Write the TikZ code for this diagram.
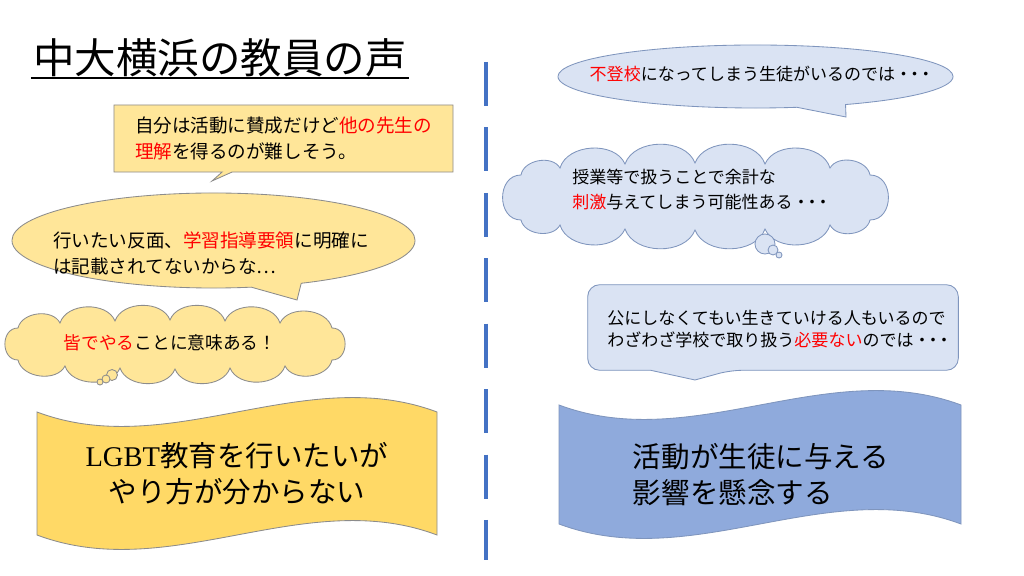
\documentclass[tikz,border=0pt]{standalone}
\usepackage{fontspec}
\setmainfont{Noto Sans CJK JP}
\newfontfamily\lgbtfont{Liberation Serif}
\usetikzlibrary{shapes,shapes.callouts,positioning,calc}

\definecolor{lightyel}{HTML}{FFE699}
\definecolor{waveyel}{HTML}{FFD966}
\definecolor{lightblu}{HTML}{DAE3F3}
\definecolor{waveblu}{HTML}{8FAADC}
\definecolor{boxgray}{HTML}{8C8C8C}
\definecolor{boxblue}{HTML}{7F95BD}
\definecolor{divblue}{HTML}{4472C4}
\definecolor{hotred}{HTML}{FF0000}

\newcommand{\redw}[1]{\textcolor{hotred}{#1}}
\newcommand{\tdots}{・\kern-0.35em・\kern-0.35em・}

\tikzset{
    yelbox/.style={draw=boxgray, fill=lightyel, line width=0.6pt},
    bluebox/.style={draw=boxblue, fill=lightblu, line width=0.6pt},
    yelwave/.style={draw=boxgray, fill=waveyel, line width=0.6pt},
    bluwave/.style={draw=boxblue, fill=waveblu, line width=0.6pt},
    cloudpuff/.style={bend left=70},
    cloudend/.style={bend left=90, looseness=1.4},
    bubble/.style={circle, inner sep=0pt},
    saytext/.style={align=left, inner sep=0pt, font=\fontsize{13.2}{18.5}\selectfont},
    smalltext/.style={align=left, inner sep=0pt, font=\fontsize{12.1}{17.5}\selectfont},
    wavetext/.style={align=center, inner sep=0pt, font=\fontsize{20.3}{25.5}\selectfont},
    divider/.style={draw=divblue, line width=2.2pt, dash pattern=on 1.1cm off 0.535cm}
}

\begin{document}
\begin{tikzpicture}[x=0.025cm, y=-0.025cm]
    % Page frame
    \useasboundingbox[fill=white] (0,0) rectangle (1024,576);

    % Title with underline
    \node[anchor=west, inner sep=0pt, font=\fontsize{29.5}{34}\selectfont] (title) at (33,58) {中大横浜の教員の声};
    \draw[line width=1.4pt] ([xshift=-0.05cm,yshift=-0.5pt]title.south west) -- ([xshift=0.05cm,yshift=-0.5pt]title.south east);

    % Dashed divider
    \coordinate (divtop) at (486,62);
    \coordinate (divbot) at (486,560);
    \draw[divider] (divtop) -- (divbot);

    % Left: rectangle callout
    \node[rectangle callout, yelbox, saytext, minimum width=8.475cm, minimum height=1.675cm,
          callout absolute pointer={(212,181)}] (othersay) at (283.5,138.5)
          {自分は活動に賛成だけど\redw{他の先生の}\\\redw{理解}を得るのが難しそう。};

    % Left: ellipse callout
    \node[ellipse callout, yelbox, minimum width=10.075cm, minimum height=2.375cm,
          callout absolute pointer={(297,300)}] (guidesay) at (213.5,240.5) {};
    \node[saytext] (guidetext) at (211,253) {行いたい反面、\redw{学習指導要領}に明確に\\は記載されてないからな…};

    % Left: thought cloud and its bubbles
    \draw[yelbox] (18,360) to[cloudend] (18,328)
        \foreach \px/\py in {60/323,115/321,170/320,225/321,280/323,332/328} { to[cloudpuff] (\px,\py) }
        to[cloudend] (332,360)
        \foreach \px/\py in {285/366,230/368,175/369,120/368,65/366,18/360} { to[cloudpuff] (\px,\py) } -- cycle;
    \node[bubble, yelbox, minimum size=0.275cm] (allb1) at (112,375) {};
    \node[bubble, yelbox, minimum size=0.2cm] (allb2) at (106,379) {};
    \node[bubble, yelbox, minimum size=0.15cm] (allb3) at (100,382) {};
    \node[smalltext, font=\fontsize{12.6}{17.5}\selectfont] (alltext) at (170,343) {\redw{皆でやる}ことに意味ある！};

    % Left: wave banner
    \draw[yelwave] (37,412) .. controls (170,462) and (304,362) .. (437,412) -- (437,535)
        .. controls (304,485) and (170,585) .. (37,535) -- cycle;
    \node[wavetext] (leftwave) at (237,474) {{\lgbtfont LGBT}教育を行いたいが\\やり方が分からない};

    % Right: ellipse callout
    \node[ellipse callout, bluebox, minimum width=9.875cm, minimum height=1.575cm,
          callout absolute pointer={(846,117)}] (absentsay) at (755.5,76.5) {};
    \node[smalltext] (absenttext) at (762,74) {\redw{不登校}になってしまう生徒がいるのでは\tdots};

    % Right: thought cloud and its bubbles
    \draw[bluebox] (521,220) to[cloudend] (521,175)
        \foreach \px/\py in {560/168,625/164,695/163,765/164,830/168,870/175} { to[cloudpuff] (\px,\py) }
        to[cloudend] (870,220)
        \foreach \px/\py in {830/225,765/229,695/230,625/229,560/225,521/220} { to[cloudpuff] (\px,\py) } -- cycle;
    \node[bubble, bluebox, minimum size=0.5cm] (stimb1) at (765,244) {};
    \node[bubble, bluebox, minimum size=0.25cm] (stimb2) at (773,250) {};
    \node[bubble, bluebox, minimum size=0.15cm] (stimb3) at (779,255) {};
    \node[smalltext, font=\fontsize{12.1}{17.8}\selectfont] (stimtext) at (702,189.5) {授業等で扱うことで余計な\\\redw{刺激}与えてしまう可能性ある\tdots};

    % Right: rounded callout
    \node[minimum width=9.25cm, minimum height=2.125cm] (nopubsay) at (773,327.5) {};
    \coordinate (nptip) at (695,380);
    \draw[bluebox, rounded corners=0.3cm] (nopubsay.west) -- (nopubsay.north west) -- (nopubsay.north east)
        -- (nopubsay.south east) -- ($(nopubsay.south west)!0.385!(nopubsay.south east)$) [sharp corners]
        -- (nptip) -- ($(nopubsay.south west)!0.17!(nopubsay.south east)$) [rounded corners=0.3cm]
        -- (nopubsay.south west) -- cycle;
    \node[smalltext, font=\fontsize{12.1}{15.6}\selectfont] (nopubtext) at (780,329) {公にしなくてもい生きていける人もいるので\\わざわざ学校で取り扱う\redw{必要ない}のでは\tdots};

    % Right: wave banner
    \draw[bluwave] (559,405) .. controls (693,455) and (827,355) .. (961,405) -- (961,524)
        .. controls (827,474) and (693,574) .. (559,524) -- cycle;
    \node[wavetext, align=left] (rightwave) at (761,475) {活動が生徒に与える\\影響を懸念する};
\end{tikzpicture}
\end{document}
